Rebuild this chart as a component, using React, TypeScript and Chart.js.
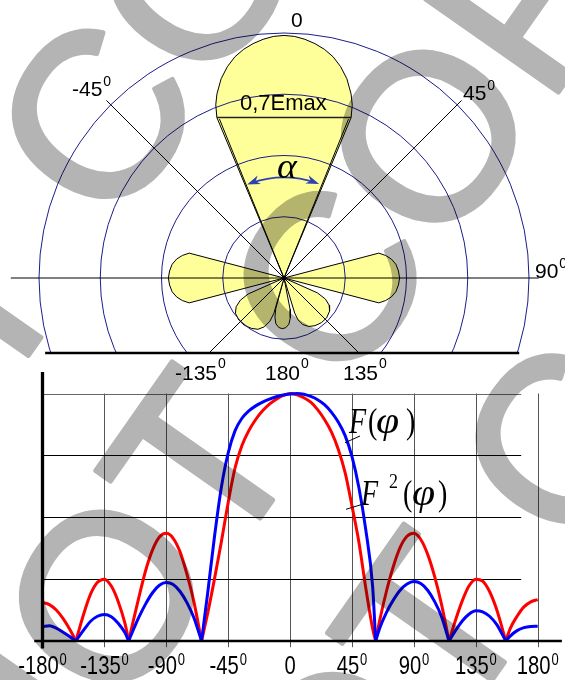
import { useEffect, useRef } from "react";
import { Chart, registerables } from "chart.js";

Chart.register(...registerables);

// ---------- Polar pattern: lobe outlines as (direction, deg clockwise from 0) and relative level ----------
const mainLobeAngle = [-23.4, -22.7, -21.5, -20, -17.5, -15, -12.5, -10, -7.5, -5, -2.5, 0, 2.5, 5, 7.5, 10, 12.5, 15, 17.5, 20, 21.5, 22.7, 23.4];
const mainLobeLevel = [0, 0.71, 0.76, 0.8, 0.853, 0.893, 0.925, 0.948, 0.965, 0.978, 0.987, 0.99, 0.987, 0.978, 0.965, 0.948, 0.925, 0.893, 0.853, 0.8, 0.76, 0.71, 0];

const rightLobeAngle = [75.3, 75.3, 77.5, 80, 83, 86.5, 90, 93.5, 97, 100, 102.5, 104.7, 104.7];
const leftLobeAngle = [-75.3, -75.3, -77.5, -80, -83, -86.5, -90, -93.5, -97, -100, -102.5, -104.7, -104.7];
const sideLobeLevel = [0, 0.4, 0.425, 0.445, 0.46, 0.468, 0.472, 0.468, 0.46, 0.445, 0.425, 0.4, 0];

const lowerLeftLobeAngle = [-112, -114, -117, -121, -126, -133, -140, -147, -153, -158, -162, -164, -164];
const lowerLeftLobeLevel = [0, 0.16, 0.2, 0.228, 0.245, 0.252, 0.252, 0.245, 0.235, 0.215, 0.185, 0.15, 0];

const lowerRightLobeAngle = [112, 114, 117, 121, 126, 133, 140, 147, 153, 158, 161.5, 163, 163];
const lowerRightLobeLevel = [0, 0.15, 0.19, 0.215, 0.23, 0.238, 0.238, 0.232, 0.222, 0.205, 0.18, 0.15, 0];

const backLobeAngle = [168, 169, 171, 174, 178, 182, 186, 190, 193, 195, 196];
const backLobeLevel = [0, 0.13, 0.165, 0.19, 0.203, 0.207, 0.203, 0.19, 0.165, 0.13, 0];

const ringLevels = [0.25, 0.5, 0.75, 1];
const halfPowerLevel = 0.71;
const halfPowerAngle = 22.7;

// ---------- Cartesian pattern: F(phi) and F^2(phi) ----------
const phiDeg = [-180, -175, -170, -165, -160, -155.7, -150, -145, -140, -135, -130, -125, -120, -117.4, -110, -105, -100, -95, -90, -85, -80, -75, -70, -64.4, -60, -55, -50, -45, -40, -35, -30, -25, -20, -15, -10, -5, 0, 5, 10, 15, 20, 25, 30, 35, 40, 45, 50, 55, 60, 62.2, 65, 70, 75, 80, 85, 90, 95, 100, 105, 110, 115.5, 120, 125, 130, 135, 140, 145, 150, 156.8, 160, 165, 170, 175, 180];
const fLevel = [
  0.058, 0.062, 0.052, 0.035, 0.017, 0,
  0.045, 0.08, 0.1, 0.107, 0.098, 0.072, 0.033, 0,
  0.095, 0.15, 0.195, 0.225, 0.236, 0.228, 0.2, 0.155, 0.095, 0,
  0.19, 0.42, 0.62, 0.76, 0.85, 0.9, 0.93, 0.95, 0.965, 0.977, 0.987, 0.994, 0.998, 1.0, 0.997, 0.988, 0.975, 0.955, 0.925, 0.885, 0.83, 0.745, 0.62, 0.45, 0.22, 0,
  0.05, 0.115, 0.165, 0.205, 0.23, 0.24, 0.232, 0.205, 0.16, 0.1, 0,
  0.04, 0.08, 0.108, 0.122, 0.118, 0.1, 0.068, 0,
  0.02, 0.042, 0.054, 0.059, 0.06,
];
const f2Level = [
  0.156, 0.147, 0.125, 0.09, 0.045, 0,
  0.11, 0.19, 0.237, 0.25, 0.222, 0.16, 0.07, 0,
  0.175, 0.285, 0.368, 0.42, 0.435, 0.415, 0.36, 0.27, 0.16, 0,
  0.11, 0.25, 0.4, 0.56, 0.7, 0.79, 0.85, 0.895, 0.93, 0.957, 0.977, 0.992, 1.0, 0.995, 0.983, 0.965, 0.935, 0.895, 0.845, 0.775, 0.68, 0.545, 0.4, 0.215, 0.05, 0,
  0.08, 0.2, 0.3, 0.378, 0.423, 0.435, 0.41, 0.35, 0.262, 0.15, 0,
  0.08, 0.16, 0.222, 0.25, 0.242, 0.2, 0.13, 0,
  0.05, 0.1, 0.138, 0.158, 0.167,
];

const xTickValues = [-180, -135, -90, -45, 0, 45, 90, 135, 180];
const xTickLabels = ["-180", "-135", "-90", "-45", "0", "45", "90", "135", "180"];
const yGridValues = [0.25, 0.5, 0.75, 1];

const watermarkText = "DO NOT COPY";

const SANS = '"Liberation Sans", Arial, sans-serif';
const SERIF = '"Liberation Serif", "Times New Roman", serif';
const LOBE_FILL = "#FFFF99";
const RING_COLOR = "#1c1c8a";
const F_COLOR = "#0000FF";
const F2_COLOR = "#FF0000";
const ARROW_COLOR = "#3040B0";
const WATERMARK_GRAY = "#B4B4B4";

const rad = (d: number) => (d * Math.PI) / 180;

function polarOutline(angles: number[], levels: number[]) {
  return angles.map((a, i) => ({ x: levels[i] * Math.sin(rad(a)), y: levels[i] * Math.cos(rad(a)) }));
}

// split a pattern into its lobes at the nulls so every null keeps a sharp cusp
function lobeSegments(values: number[]) {
  const segs: { x: number; y: number }[][] = [];
  let cur: { x: number; y: number }[] = [];
  phiDeg.forEach((p, i) => {
    const pt = { x: p, y: values[i] };
    cur.push(pt);
    if (values[i] === 0 && cur.length > 1) {
      segs.push(cur);
      cur = [pt];
    }
  });
  if (cur.length > 1) segs.push(cur);
  return segs;
}

function degLabel(
  ctx: CanvasRenderingContext2D,
  main: string,
  withDeg: boolean,
  x: number,
  base: number,
  size: number,
  supSize: number,
  rise: number,
  sx: number,
  centered: boolean
) {
  ctx.save();
  const mainFont = `${size}px ${SANS}`;
  const supFont = `${supSize}px ${SANS}`;
  ctx.font = mainFont;
  const wMain = ctx.measureText(main).width;
  ctx.font = supFont;
  const wSup = withDeg ? ctx.measureText("0").width + 1 : 0;
  const total = (wMain + wSup) * sx;
  const left = centered ? x - total / 2 : x;
  ctx.translate(left, base);
  ctx.scale(sx, 1);
  ctx.fillStyle = "#000";
  ctx.textAlign = "left";
  ctx.textBaseline = "alphabetic";
  ctx.font = mainFont;
  ctx.fillText(main, 0, 0);
  if (withDeg) {
    ctx.font = supFont;
    ctx.fillText("0", wMain + 1, -rise);
  }
  ctx.restore();
}

function glyph(ctx: CanvasRenderingContext2D, text: string, x: number, base: number, font: string, sx: number) {
  ctx.save();
  ctx.translate(x, base);
  ctx.scale(sx, 1);
  ctx.font = font;
  ctx.fillStyle = "#000";
  ctx.textAlign = "left";
  ctx.textBaseline = "alphabetic";
  ctx.fillText(text, 0, 0);
  ctx.restore();
}

function makeWatermark(w: number, h: number) {
  const c = document.createElement("canvas");
  c.width = w;
  c.height = h;
  const g = c.getContext("2d") as CanvasRenderingContext2D;
  const size = 235;
  g.font = `${size}px ${SANS}`;
  g.fillStyle = WATERMARK_GRAY;
  g.strokeStyle = WATERMARK_GRAY;
  g.lineWidth = 5;
  g.lineJoin = "round";
  g.rotate(rad(-55));
  const before = g.measureText("DO NO").width;
  const tW = g.measureText("T").width;
  const start = -264 - before - tW / 2;
  [143, 426, 709].forEach((v) => {
    const base = v + 0.358 * size;
    g.fillText(watermarkText, start, base);
    g.strokeText(watermarkText, start, base);
  });
  return c;
}

function watermarkLayer(img: HTMLCanvasElement, top: number, from: number, to: number) {
  return {
    id: "watermarkLayer",
    afterDraw(chart: any) {
      const ctx: CanvasRenderingContext2D = chart.ctx;
      ctx.save();
      ctx.beginPath();
      ctx.rect(0, from - top, chart.width, to - from);
      ctx.clip();
      ctx.globalCompositeOperation = "multiply";
      ctx.drawImage(img, 0, -top);
      ctx.restore();
    },
  };
}

const polarDecor = {
  id: "polarDecor",
  afterDatasetsDraw(chart: any) {
    const ctx: CanvasRenderingContext2D = chart.ctx;
    const xs = chart.scales.x;
    const ys = chart.scales.y;
    const P = (a: number, r: number): [number, number] => [
      xs.getPixelForValue(r * Math.sin(rad(a))),
      ys.getPixelForValue(r * Math.cos(rad(a))),
    ];
    const cx = xs.getPixelForValue(0);
    const cy = ys.getPixelForValue(0);
    const unit = xs.getPixelForValue(1) - cx;
    const floorY = ys.getPixelForValue(-0.306);

    ctx.save();
    ctx.beginPath();
    ctx.rect(0, 0, chart.width, floorY);
    ctx.clip();
    ctx.strokeStyle = RING_COLOR;
    ctx.lineWidth = 1;
    ringLevels.forEach((r) => {
      ctx.beginPath();
      ctx.arc(cx, cy, r * unit, 0, Math.PI * 2);
      ctx.stroke();
    });
    ctx.strokeStyle = "#000";
    ctx.lineWidth = 1;
    [-45, 45].forEach((a) => {
      const p1 = P(a, 1.025);
      const p2 = P(a + 180, 1.0);
      ctx.beginPath();
      ctx.moveTo(p1[0], p1[1]);
      ctx.lineTo(p2[0], p2[1]);
      ctx.stroke();
    });
    ctx.beginPath();
    ctx.moveTo(xs.getPixelForValue(-1.115), cy);
    ctx.lineTo(xs.getPixelForValue(1.04), cy);
    ctx.stroke();
    ctx.restore();

    ctx.save();
    ctx.strokeStyle = "#000";
    ctx.lineWidth = 2.5;
    ctx.beginPath();
    ctx.moveTo(xs.getPixelForValue(-0.975), floorY);
    ctx.lineTo(xs.getPixelForValue(0.96), floorY);
    ctx.stroke();

    // half-power chord and beam-width lines
    const c1 = P(-halfPowerAngle, halfPowerLevel);
    const c2 = P(halfPowerAngle, halfPowerLevel);
    ctx.strokeStyle = "#222";
    ctx.lineWidth = 1.5;
    ctx.beginPath();
    ctx.moveTo(c1[0], c1[1]);
    ctx.lineTo(c2[0], c2[1]);
    ctx.stroke();
    ctx.lineWidth = 1;
    ctx.strokeStyle = "#000";
    [-22.1, 22.1].forEach((a) => {
      const e = P(a, 0.7);
      ctx.beginPath();
      ctx.moveTo(cx, cy);
      ctx.lineTo(e[0], e[1]);
      ctx.stroke();
    });

    // beam-width arc with arrowheads
    const aR = 0.41 * unit;
    const a1 = -21.5;
    const a2 = 20.5;
    ctx.strokeStyle = ARROW_COLOR;
    ctx.fillStyle = ARROW_COLOR;
    ctx.lineWidth = 1.6;
    ctx.beginPath();
    ctx.arc(cx, cy, aR, rad(a1 + 2 - 90), rad(a2 - 2 - 90));
    ctx.stroke();
    const head = (a: number, dir: number) => {
      const t = rad(a - 90);
      const tipX = cx + aR * Math.cos(t);
      const tipY = cy + aR * Math.sin(t);
      const tx = -Math.sin(t) * dir;
      const ty = Math.cos(t) * dir;
      const nx = Math.cos(t);
      const ny = Math.sin(t);
      const L = 13;
      const W = 4.5;
      ctx.beginPath();
      ctx.moveTo(tipX, tipY);
      ctx.lineTo(tipX - tx * L + nx * W, tipY - ty * L + ny * W);
      ctx.lineTo(tipX - tx * L * 0.7, tipY - ty * L * 0.7);
      ctx.lineTo(tipX - tx * L - nx * W, tipY - ty * L - ny * W);
      ctx.closePath();
      ctx.fill();
    };
    head(a2, 1);
    head(a1, -1);

    glyph(ctx, "0,7Emax", 240, 110, `22px ${SANS}`, 1);
    glyph(ctx, "\u03B1", 277, 178, `italic 36px ${SERIF}`, 1.05);
    degLabel(ctx, "0", false, 291, 27, 21, 14, 10, 1, false);
    degLabel(ctx, "-45", true, 72, 96, 21, 14, 10, 1, false);
    degLabel(ctx, "45", true, 463, 100, 21, 14, 10, 1, false);
    degLabel(ctx, "90", true, 535, 278, 21, 14, 10, 1, false);
    degLabel(ctx, "-135", true, 175, 380, 21, 14, 12, 1, false);
    degLabel(ctx, "180", true, 265, 380, 21, 14, 12, 1, false);
    degLabel(ctx, "135", true, 343, 380, 21, 14, 12, 1, false);
    ctx.restore();
  },
};

const cartDecor = {
  id: "cartDecor",
  beforeDatasetsDraw(chart: any) {
    const ctx: CanvasRenderingContext2D = chart.ctx;
    const xs = chart.scales.x;
    const ys = chart.scales.y;
    ctx.save();
    ctx.lineWidth = 1;
    ctx.strokeStyle = "#555";
    xTickValues.slice(1).forEach((v) => {
      const x = Math.round(xs.getPixelForValue(v)) + 0.5;
      ctx.beginPath();
      ctx.moveTo(x, ys.getPixelForValue(1));
      ctx.lineTo(x, ys.getPixelForValue(-0.025));
      ctx.stroke();
    });
    yGridValues.forEach((v) => {
      const y = Math.round(ys.getPixelForValue(v)) + 0.5;
      ctx.strokeStyle = v === 1 ? "#666" : "#000";
      ctx.beginPath();
      ctx.moveTo(xs.getPixelForValue(-180), y);
      ctx.lineTo(xs.getPixelForValue(168), y);
      ctx.stroke();
    });
    ctx.restore();
  },
  afterDatasetsDraw(chart: any) {
    const ctx: CanvasRenderingContext2D = chart.ctx;
    const xs = chart.scales.x;
    const ys = chart.scales.y;
    ctx.save();
    ctx.strokeStyle = "#000";
    ctx.lineWidth = 3.3;
    ctx.beginPath();
    ctx.moveTo(xs.getPixelForValue(-180), ys.getPixelForValue(1.087));
    ctx.lineTo(xs.getPixelForValue(-180), ys.getPixelForValue(-0.03));
    ctx.stroke();
    ctx.lineWidth = 2.5;
    ctx.beginPath();
    ctx.moveTo(xs.getPixelForValue(-186), ys.getPixelForValue(0));
    ctx.lineTo(xs.getPixelForValue(197.6), ys.getPixelForValue(0));
    ctx.stroke();

    xTickValues.forEach((v, i) => {
      degLabel(ctx, xTickLabels[i], v !== 0, xs.getPixelForValue(v), 314, 25, 16, 9, 0.81, true);
    });

    // curve captions with leader lines
    const serifI = `italic 35px ${SERIF}`;
    const serifU = `35px ${SERIF}`;
    const phiFont = `italic 38px ${SERIF}`;
    glyph(ctx, "F", 349, 73, serifI, 0.8);
    glyph(ctx, "(", 368, 73, serifU, 0.8);
    glyph(ctx, "\u03C6", 376, 73, phiFont, 1.1);
    glyph(ctx, ")", 406, 73, serifU, 0.8);
    glyph(ctx, "F", 361, 145, serifI, 0.8);
    glyph(ctx, "2", 389, 128, `20px ${SERIF}`, 0.9);
    glyph(ctx, "(", 403, 145, serifU, 0.8);
    glyph(ctx, "\u03C6", 412, 145, phiFont, 1.1);
    glyph(ctx, ")", 438, 145, serifU, 0.8);
    ctx.lineWidth = 1;
    ctx.beginPath();
    ctx.moveTo(345, 82.7);
    ctx.lineTo(360, 76);
    ctx.moveTo(346, 149.3);
    ctx.lineTo(363.3, 144);
    ctx.stroke();
    ctx.restore();
  },
};

export default function App() {
  const polarRef = useRef<HTMLCanvasElement | null>(null);
  const cartRef = useRef<HTMLCanvasElement | null>(null);

  useEffect(() => {
    const mark = makeWatermark(565, 680);
    const lobes = [
      polarOutline(mainLobeAngle, mainLobeLevel),
      polarOutline(rightLobeAngle, sideLobeLevel),
      polarOutline(leftLobeAngle, sideLobeLevel),
      polarOutline(lowerLeftLobeAngle, lowerLeftLobeLevel),
      polarOutline(lowerRightLobeAngle, lowerRightLobeLevel),
      polarOutline(backLobeAngle, backLobeLevel),
    ];
    const polar = new Chart(polarRef.current as HTMLCanvasElement, {
      type: "scatter",
      data: {
        datasets: lobes.map((pts) => ({
          data: pts,
          showLine: true,
          fill: "shape",
          backgroundColor: LOBE_FILL,
          borderColor: "#000",
          borderWidth: 1,
          pointRadius: 0,
          tension: 0,
        })),
      },
      options: {
        responsive: false,
        animation: false,
        events: [],
        layout: { padding: 0 },
        plugins: { legend: { display: false }, tooltip: { enabled: false } },
        scales: {
          x: { type: "linear", display: false, min: -284 / 245, max: 281 / 245 },
          y: { type: "linear", display: false, min: -112 / 245, max: 278 / 245 },
        },
      },
      plugins: [polarDecor, watermarkLayer(mark, 0, 0, 360)],
    } as any);

    const fSegs = lobeSegments(fLevel);
    const f2Segs = lobeSegments(f2Level);
    const datasets = [
      ...fSegs.map((d) => ({ data: d, borderColor: F_COLOR })),
      ...f2Segs.map((d) => ({ data: d, borderColor: F2_COLOR })),
    ].map((d) => ({
      ...d,
      borderWidth: 3,
      pointRadius: 0,
      fill: false,
      cubicInterpolationMode: "monotone",
      clip: false,
    }));
    const cart = new Chart(cartRef.current as HTMLCanvasElement, {
      type: "line",
      data: { datasets },
      options: {
        responsive: false,
        animation: false,
        events: [],
        layout: { padding: { left: 42.5, right: 27.3, top: 33.5, bottom: 39 } },
        plugins: { legend: { display: false }, tooltip: { enabled: false } },
        scales: {
          x: { type: "linear", display: false, min: -180, max: 180 },
          y: { type: "linear", display: false, min: 0, max: 1 },
        },
      },
      plugins: [cartDecor, watermarkLayer(mark, 360, 360, 680)],
    } as any);

    return () => {
      polar.destroy();
      cart.destroy();
    };
  }, []);

  return (
    <div style={{ position: "absolute", left: 0, top: 0, width: 565, height: 680, background: "#fff" }}>
      <canvas ref={polarRef} width={565} height={390} style={{ position: "absolute", left: 0, top: 0 }} />
      <canvas
        ref={cartRef}
        width={565}
        height={320}
        style={{ position: "absolute", left: 0, top: 360, mixBlendMode: "multiply" }}
      />
    </div>
  );
}
